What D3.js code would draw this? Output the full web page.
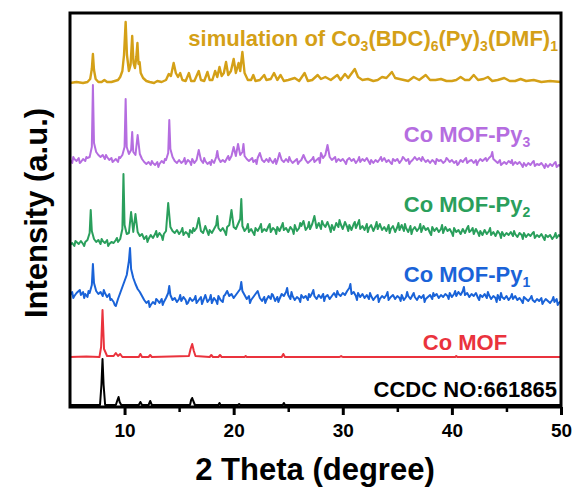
<!DOCTYPE html>
<html>
<head>
<meta charset="utf-8">
<script src="https://cdn.jsdelivr.net/npm/d3@7"></script>
<style>
  body { margin: 0; background: #fff; }
  text { font-family: "Liberation Sans", Arial, sans-serif; font-weight: bold; }
</style>
</head>
<body>
<svg id="chart" width="577" height="488"></svg>
<script>
// Scan grid for the measured patterns (2θ start and step, degrees)
const scanStart = 5.0;
const scanStep = 0.2;

const xTicks = [10, 20, 30, 40, 50];
const xMinorTicks = [15, 25, 35, 45];

// Vertical stacking offset of each pattern (a.u.)
const offsets = { ccdc: 2, coMof: 50, py1: 110, py2: 162, py3: 246, sim: 324 };

// Co MOF-Py1 measured scan, one value per grid step
const py1Scan = [
  2,5,1,4,6, 2,5,3,0,4, 12,14,6,3,5, 1,4,0,3,-2, -5,-9,-2,4,10,
  16,22,36,28,19, 13,8,5,1,-3, -6,-4,-8,-5,-7, -3,-6,-2,-5,-1,
  4,2,-3,-1,-5, -2,-4,0,-3,-6, -1,-4,-2,-6,-3, 0,-4,2,-5,-2,
  -6,-1,-4,1,-3, -5,2,6,1,3, -1,2,5,8,6, 2,-2,1,-3,0,
  3,6,-1,-4,0, -3,1,-2,2,-4, 0,-2,3,1,5, 2,-2,1,-3,0,
  -2,2,-1,1,-3, 0,4,1,-2,2, -1,3,0,2,-2, 1,4,0,3,1,
  4,2,6,9,3, 5,1,4,0,3, -1,2,-2,1,-3, 0,2,-2,1,-1,
  2,-3,0,2,-2, 1,-1,2,-3,0, 1,-2,2,0,-3, 1,-1,2,-2,0,
  2,-2,1,3,-1, 2,0,3,1,4, 0,3,1,5,2, 6,2,4,0,3,
  1,4,-1,2,0, 3,-1,2,-2,1, -1,2,-3,0,-2, 1,-3,0,-2,1,
  -3,-1,-4,0,-2, -4,-1,-3,-5,-2, -4,-1,-5,-2,-4, -6,-3,-5,-2,-6,
  -4
];
const py1Spikes = [[7.1,33],[10.5,49],[14.1,11],[20.7,15],[24.9,9],[27.3,7],[30.7,13],[35.9,5],[41.1,10],[44.5,4]];
const py1Fine = [
  [5.3,-1],[5.9,7],[6.3,-1],[6.7,6],[8.1,7],[8.7,-3],[9.1,-8],[12.3,-10],[12.9,-2],[13.5,-8],
  [15.1,2],[15.7,-7],[16.5,1],[17.1,-7],[17.9,2],[18.5,-7],[19.1,1],[21.5,-6],[22.9,-6],[23.5,3],
  [24.1,-5],[25.3,5],[26.1,-5],[26.9,3],[28.3,-4],[29.5,6],[31.3,-3],[32.5,4],[33.3,-5],[34.1,5],
  [35.3,-4],[36.5,4],[37.5,-5],[38.3,4],[39.7,-2],[40.3,6],[42.5,-3],[43.3,5],[44.1,-5],[45.5,3],
  [46.5,-6],[47.3,1],[48.3,-7],[49.3,0],[49.7,-8]
];

// Co MOF-Py2 measured scan
const py2Scan = [
  0,2,-1,3,1, 4,1,3,5,12, 14,6,3,5,1, 4,2,5,1,3, 2,5,3,6,16,
  20,11,12,33,13, 31,13,9,11,6, 9,6,10,7,11, 8,12,9,11,14,
  42,18,14,12,15, 11,14,10,13,11, 15,12,14,17,27, 14,12,19,13,15,
  12,16,20,17,14, 17,13,18,20,35, 18,16,21,26,19, 14,17,13,16,12,
  17,14,18,13,16, 14,19,13,17,15, 18,14,19,15,17, 13,18,15,20,14,
  17,19,24,15,18, 16,21,29,17,22, 16,21,18,23,17, 20,15,22,18,21,
  16,23,18,20,15, 21,17,22,16,19, 15,21,17,20,14, 19,16,21,15,18,
  14,20,16,19,13, 18,15,20,14,17, 13,19,15,18,14, 17,13,19,15,17,
  12,18,14,17,13, 16,12,18,14,16, 12,17,13,15,11, 16,12,17,13,15,
  11,16,12,14,10, 15,11,14,10,13, 9,14,11,13,9, 12,10,13,9,11,
  8,12,10,12,8, 11,9,12,7,10, 8,11,7,10,8, 10,6,9,7,10,
  8
];
const py2Spikes = [[6.9,35],[9.9,71],[18.5,29],[20.7,46],[23.3,21],[26.9,23],[31.5,25],[35.7,21],[41.9,17]];
const py2Fine = [
  [5.5,4],[6.3,-1],[7.9,6],[8.5,-1],[9.3,7],[12.1,3],[12.9,14],[13.5,5],[15.3,17],[15.9,8],
  [16.3,17],[17.7,10],[19.3,10],[21.3,21],[21.9,10],[22.5,21],[23.9,11],[24.5,22],[25.5,11],[26.1,22],
  [28.1,24],[28.9,13],[29.7,25],[30.5,14],[31.1,23],[32.3,13],[33.1,23],[34.3,12],[35.1,22],[36.3,11],
  [37.1,21],[38.1,10],[39.1,20],[40.1,9],[41.5,19],[42.5,9],[43.5,17],[44.5,7],[45.7,14],[46.5,6],
  [47.5,13],[48.5,5],[49.5,12]
];

// Co MOF-Py3 measured scan
const py3Scan = [
  1,-2,2,0,3, -1,2,0,3,4, 14,18,9,6,4, 6,2,4,1,3, 0,2,-1,3,6,
  14,14,7,11,9, 6,26,7,2,-1, -3,-1,-4,-2,-4, -1,-3,0,-2,1,
  8,12,4,0,-2, 1,-2,0,-3,1, -1,2,-2,1,11, 1,-2,0,-3,-1,
  1,-2,4,3,-1, 1,-1,3,1,5, 14,5,17,6,9, 5,2,0,2,-1,
  1,3,8,1,-1, 2,-1,1,-2,2, 0,8,1,-1,2, -1,1,-2,0,2,
  -1,1,6,1,-2, 0,2,-1,1,3, 8,3,6,16,4, 1,3,-1,2,0,
  2,-1,1,3,0, 2,-2,1,-1,2, 0,3,-1,1,-2, 1,-1,2,0,3,
  -1,1,-2,2,0, 2,-2,1,3,0, 2,-1,1,4,1, 3,0,2,-1,1,
  -2,1,-1,2,0, 1,-2,0,2,-1, 1,-2,0,-3,1, -1,2,-2,0,1,
  -2,1,-1,2,0, 2,0,3,5,2, 0,-2,1,-3,-1, -3,0,-2,-4,-1,
  -3,-1,-4,-2,-5, -2,-4,-1,-5,-3, -4,-2,-5,-3,-6, -3,-5,-2,-6,-4,
  -5
];
const py3Spikes = [[7.1,76],[10.1,62],[10.7,29],[14.1,41],[18.5,10],[20.9,17],[43.7,9]];
const py3Fine = [
  [5.3,4],[5.9,-2],[6.5,4],[8.3,6],[8.9,-1],[9.5,4],[12.5,0],[13.1,-6],[13.7,2],[15.5,3],
  [16.1,-4],[17.3,3],[17.9,-4],[19.5,5],[21.7,3],[22.1,-3],[23.3,3],[23.9,-3],[25.1,4],[25.9,-3],
  [27.3,4],[27.9,-2],[29.3,4],[30.3,-3],[31.5,4],[32.5,-3],[33.5,4],[34.5,-3],[35.5,4],[36.1,-3],
  [37.3,4],[38.5,-3],[39.5,3],[40.5,-4],[41.3,3],[42.3,-4],[43.1,3],[44.5,-4],[45.5,1],[46.5,-6],
  [47.5,0],[48.5,-7],[49.5,-1]
];

// Simulated pattern of Co3(BDC)6(Py)3(DMF)1: [2θ, intensity]
const simPattern = [
  [5.0,0],[5.6,1],[6.2,0],[6.6,1],[6.85,4],[7.0,14],[7.1,29],[7.2,13],[7.35,4],[7.6,1],
  [7.9,1],[8.15,3],[8.4,1],[8.8,1],[9.1,2],[9.4,3],[9.6,6],[9.8,12],[9.95,28],[10.1,61],
  [10.22,28],[10.4,12],[10.55,18],[10.7,47],[10.82,20],[10.95,15],[11.08,26],[11.18,40],[11.28,19],[11.38,21],
  [11.48,10],[11.7,5],[12.0,2],[12.3,1],[12.7,0],[13.0,2],[13.4,1],[13.8,3],[14.05,9],[14.25,7],
  [14.5,20],[14.7,10],[14.9,6],[15.1,10],[15.3,3],[15.6,2],[15.9,10],[16.1,2],[16.4,2],[16.8,12],
  [17.0,3],[17.3,2],[17.6,11],[17.8,3],[18.05,3],[18.3,12],[18.5,6],[18.7,16],[18.9,7],[19.1,10],
  [19.3,21],[19.5,8],[19.75,12],[20.0,24],[20.2,10],[20.45,20],[20.6,12],[20.8,31],[21.0,10],[21.3,3],
  [21.6,3],[21.8,8],[22.0,2],[22.4,3],[22.8,8],[23.0,3],[23.4,4],[23.7,10],[24.0,3],[24.3,8],
  [24.6,2],[25.0,3],[25.6,5],[26.0,2],[26.5,10],[26.8,2],[27.2,3],[27.7,8],[28.0,4],[28.4,6],
  [28.9,3],[29.5,8],[29.8,3],[30.2,9],[30.5,5],[31.1,14],[31.4,6],[31.8,3],[32.3,4],[32.8,2],
  [33.2,3],[33.6,6],[34.0,5],[34.5,11],[34.8,5],[35.2,4],[35.6,3],[36.0,2],[36.5,6],[37.0,3],
  [37.6,8],[38.0,3],[38.5,3],[39.0,4],[39.5,2],[40.0,2],[40.4,3],[40.8,6],[41.2,3],[41.6,3],
  [42.0,8],[42.4,3],[42.9,4],[43.3,6],[43.7,2],[44.2,3],[44.8,5],[45.3,2],[45.8,2],[46.3,4],
  [46.8,2],[47.5,3],[48.2,1],[49.0,2],[50.0,1]
];

// As-synthesised Co MOF: [2θ, intensity]
const coMofPattern = [
  [5.0,0],[6.5,0.5],[7.7,0],[7.85,10],[7.98,47],[8.12,8],[8.4,1],[9.0,1],[9.2,4],[9.4,1],
  [9.6,3],[9.8,0],[11.3,0],[11.45,3],[11.6,0],[12.2,0],[12.35,2],[12.5,0],[15.9,1],[16.05,8],
  [16.2,13],[16.35,6],[16.5,1],[17.8,0],[17.95,2],[18.1,0],[18.6,0],[18.75,2],[18.9,0],[21.0,0],
  [21.1,1],[21.2,0],[24.4,0],[24.55,3],[24.7,0],[29.7,0],[29.85,1],[30.0,0],[40.3,0],[40.4,1],
  [40.5,0],[50.0,0]
];

// Reference pattern, CCDC 661865: [2θ, intensity]
const ccdcPattern = [
  [5.0,0],[7.75,0],[7.88,20],[7.98,46],[8.08,20],[8.22,0],[9.2,0],[9.35,5],[9.45,8],[9.55,3],
  [9.7,0],[11.3,0],[11.45,3],[11.6,0],[12.2,0],[12.35,4],[12.5,0],[16.0,0],[16.1,5],[16.2,7],
  [16.3,4],[16.45,0],[18.6,0],[18.7,2],[18.8,0],[20.4,0],[20.5,1],[20.6,0],[24.5,0],[24.6,2],
  [24.7,0],[50.0,0]
];

const colors = {
  sim: "#d4a017", py3: "#b56de0", py2: "#2a9f5c", py1: "#1a63d8", coMof: "#ea333d", ccdc: "#000000"
};

const svg = d3.select("#chart");
const margin = { left: 70, right: 561, top: 13, bottom: 407 };

const x = d3.scaleLinear().domain([5, 50]).range([margin.left, margin.right]);
const y = d3.scaleLinear().domain([0, 394]).range([margin.bottom, margin.top]);

function fromScan(scan, ...extra) {
  const pts = scan.map((v, i) => [+(scanStart + i * scanStep).toFixed(2), v]);
  return pts.concat(...extra).sort((a, b) => a[0] - b[0]);
}

const traces = [
  { key: "ccdc", pts: ccdcPattern, w: 2 },
  { key: "coMof", pts: coMofPattern, w: 2 },
  { key: "py1", pts: fromScan(py1Scan, py1Spikes, py1Fine), w: 2 },
  { key: "py2", pts: fromScan(py2Scan, py2Spikes, py2Fine), w: 2 },
  { key: "py3", pts: fromScan(py3Scan, py3Spikes, py3Fine), w: 2 },
  { key: "sim", pts: simPattern, w: 2.4 }
];

const g = svg.append("g");
traces.forEach(t => {
  const off = offsets[t.key];
  const line = d3.line().x(d => x(d[0])).y(d => y(d[1] + off));
  g.append("path")
    .datum(t.pts)
    .attr("d", line)
    .attr("fill", "none")
    .attr("stroke", colors[t.key])
    .attr("stroke-width", t.w)
    .attr("stroke-linejoin", "round");
});

// Axis ticks
const axis = svg.append("g")
  .attr("transform", `translate(0,${margin.bottom})`)
  .call(d3.axisBottom(x).tickValues(xTicks).tickSize(8).tickPadding(9).tickFormat(d3.format("d")));
axis.select(".domain").remove();
axis.selectAll(".tick line").attr("stroke", "#000").attr("stroke-width", 3);
axis.selectAll(".tick text").attr("font-size", 19).attr("fill", "#000")
  .style("font-family", '"Liberation Sans", Arial, sans-serif').style("font-weight", "bold");

const minor = svg.append("g")
  .attr("transform", `translate(0,${margin.bottom})`)
  .call(d3.axisBottom(x).tickValues(xMinorTicks).tickSize(5).tickFormat(""));
minor.select(".domain").remove();
minor.selectAll(".tick line").attr("stroke", "#000").attr("stroke-width", 2.5);

// Frame
svg.append("rect")
  .attr("x", margin.left).attr("y", margin.top)
  .attr("width", margin.right - margin.left).attr("height", margin.bottom - margin.top)
  .attr("fill", "none").attr("stroke", "#000").attr("stroke-width", 3);

// Axis titles
svg.append("text")
  .attr("x", 315).attr("y", 480)
  .attr("text-anchor", "middle").attr("font-size", 31)
  .text("2 Theta (degree)");

svg.append("text")
  .attr("transform", "translate(47,213) rotate(-90)")
  .attr("text-anchor", "middle").attr("font-size", 31)
  .text("Intensity (a.u.)");

// Series labels with subscripts
function label(parts, xPos, yPos, anchor, color) {
  const t = svg.append("text")
    .attr("x", xPos).attr("y", yPos)
    .attr("text-anchor", anchor).attr("font-size", 22).attr("fill", color);
  let shifted = false;
  parts.forEach(p => {
    const s = t.append("tspan").text(p.t);
    if (p.sub) {
      s.attr("font-size", 14).attr("dy", 5);
      shifted = true;
    } else if (shifted) {
      s.attr("dy", -5);
      shifted = false;
    }
  });
}

label([{t:"simulation of Co"},{t:"3",sub:true},{t:"(BDC)"},{t:"6",sub:true},{t:"(Py)"},{t:"3",sub:true},{t:"(DMF)"},{t:"1",sub:true}],
  558, 46, "end", colors.sim);
label([{t:"Co MOF-Py"},{t:"3",sub:true}], 467, 142, "middle", colors.py3);
label([{t:"Co MOF-Py"},{t:"2",sub:true}], 467, 212, "middle", colors.py2);
label([{t:"Co MOF-Py"},{t:"1",sub:true}], 467, 282, "middle", colors.py1);
label([{t:"Co MOF"}], 465, 350, "middle", colors.coMof);
label([{t:"CCDC NO:661865"}], 557, 397, "end", colors.ccdc);
</script>
</body>
</html>
